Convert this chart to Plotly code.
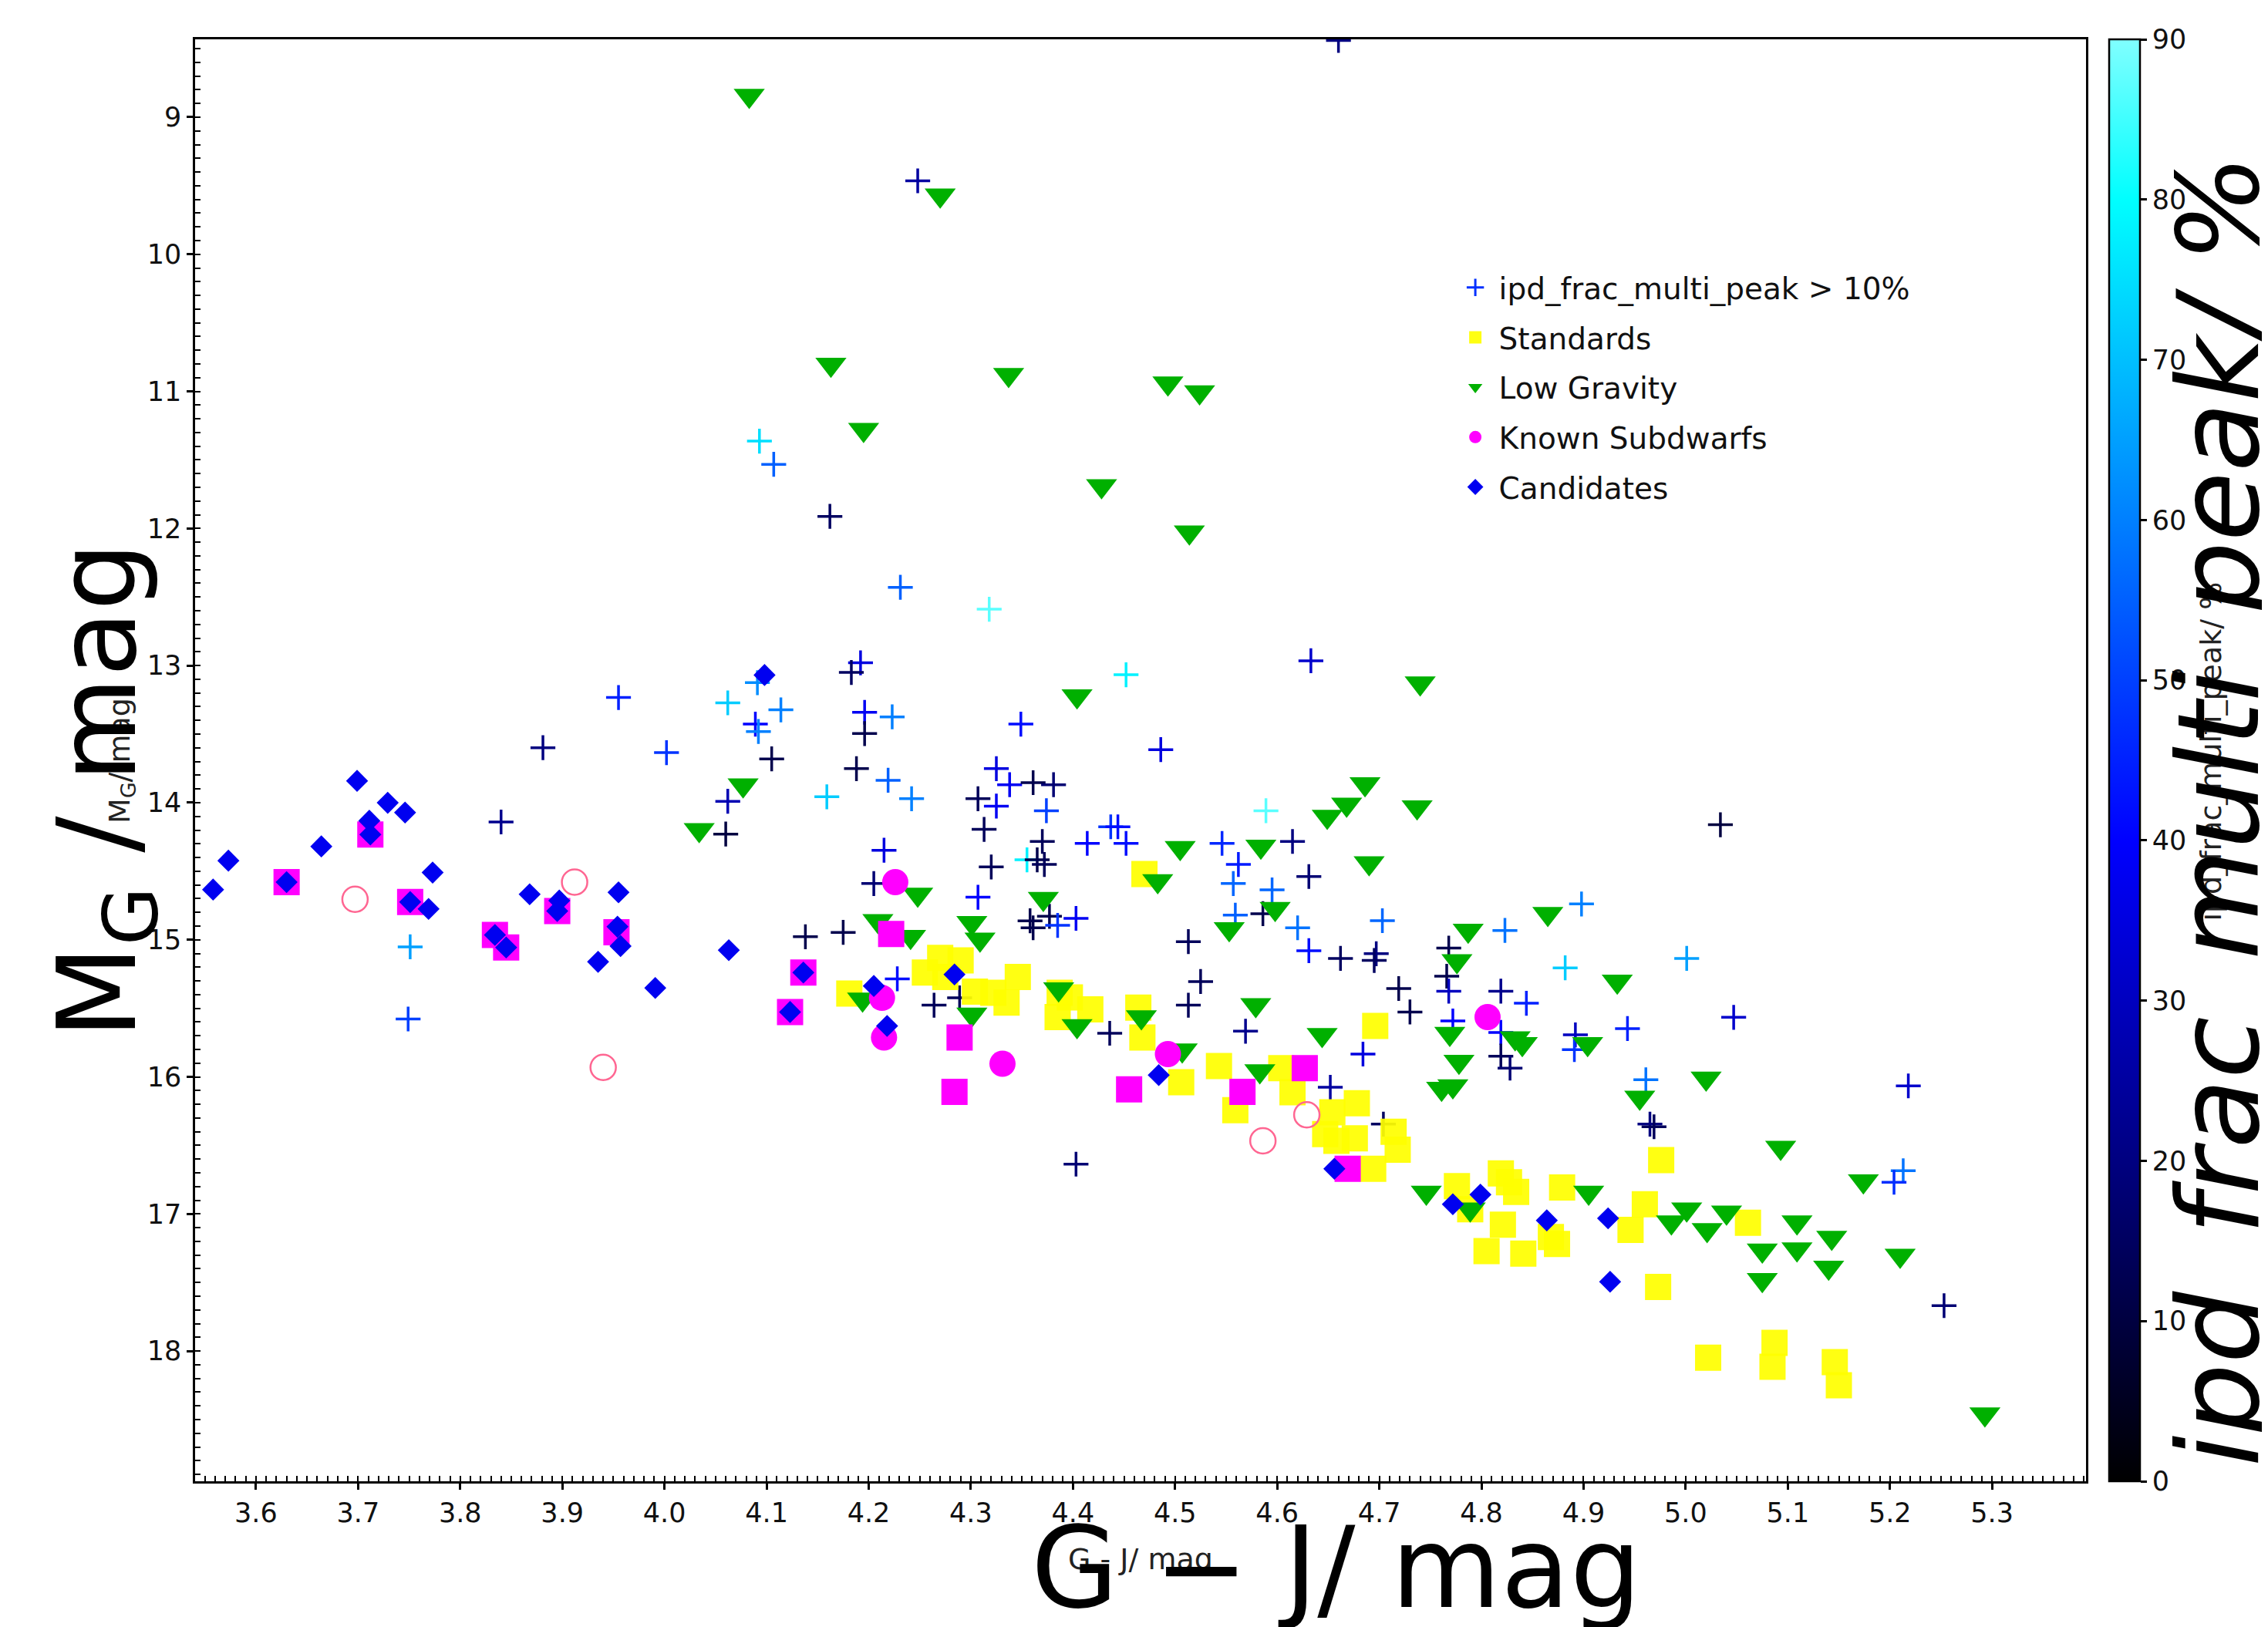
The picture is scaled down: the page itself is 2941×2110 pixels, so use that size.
import plotly.graph_objects as go

# ---------------- data ----------------
# Candidates (blue diamonds)
cand_x = [3.558, 3.573, 3.630, 3.664, 3.699, 3.711, 3.712, 3.729, 3.746, 3.751, 3.769, 3.773,
          3.868, 3.834, 3.845, 3.897, 3.895, 3.955, 3.954, 3.957, 3.935, 3.991, 4.063, 4.098,
          4.123, 4.136, 4.205, 4.218, 4.284, 4.484, 4.656, 4.772, 4.799, 4.864, 4.924, 4.926]
cand_y = [14.634, 14.423, 14.580, 14.319, 13.841, 14.132, 14.232, 14.001, 14.072, 14.725, 14.775, 14.510,
          14.668, 14.965, 15.056, 14.714, 14.791, 14.654, 14.905, 15.046, 15.161, 15.352, 15.076, 13.069,
          15.527, 15.239, 15.337, 15.629, 15.253, 15.987, 16.671, 16.929, 16.859, 17.047, 17.032, 17.495]

# Standards (yellow squares)
std_x = [4.470, 4.181, 4.270, 4.290, 4.255, 4.275, 4.304, 4.346, 4.322, 4.335, 4.387, 4.397, 4.417,
         4.385, 4.464, 4.468, 4.506, 4.696, 4.976, 4.543, 4.604, 4.559, 4.615, 4.678, 4.654, 4.647,
         4.658, 4.676, 4.714, 4.718, 4.694, 4.776, 4.819, 4.827, 4.834, 4.789, 4.821, 4.805, 4.841,
         4.868, 4.874, 4.879, 4.960, 4.946, 5.061, 4.973, 5.022, 5.087, 5.085, 5.146, 5.150]
std_y = [14.521, 15.392, 15.132, 15.151, 15.239, 15.272, 15.378, 15.272, 15.387, 15.458, 15.387, 15.421, 15.508,
         15.564, 15.495, 15.713, 16.039, 15.629, 16.607, 15.921, 15.936, 16.243, 16.113, 16.193, 16.259, 16.417,
         16.467, 16.449, 16.401, 16.532, 16.671, 16.797, 16.704, 16.769, 16.840, 16.966, 17.078, 17.271, 17.290,
         17.168, 17.219, 16.807, 16.929, 17.116, 17.065, 17.532, 18.048, 17.941, 18.115, 18.081, 18.250]

# Low gravity (green down-triangles)
lg_x = [4.083, 4.270, 4.163, 4.337, 4.493, 4.524, 4.195, 4.428, 4.514,
        4.404, 4.077, 4.034, 4.505, 4.483,
        4.740, 4.686, 4.668, 4.649, 4.737, 4.584, 4.690,
        4.248, 4.371, 4.209, 4.241, 4.301, 4.309, 4.194, 4.301, 4.386, 4.404, 4.467, 4.507,
        4.598, 4.553, 4.787, 4.865, 4.776, 4.933, 4.579, 4.644, 4.769, 4.833, 4.840, 4.904,
        4.778, 4.761, 4.772, 4.955, 5.020, 4.583,
        4.746, 4.789, 4.905, 5.093, 5.174, 4.986, 5.001, 5.021, 5.040, 5.075, 5.109, 5.109,
        5.143, 5.140, 5.075, 5.210, 5.293]
lg_y = [8.842, 9.570, 10.804, 10.878, 10.941, 11.005, 11.279, 11.690, 12.028,
        13.223, 13.873, 14.199, 14.329, 14.571,
        13.128, 13.864, 14.013, 14.102, 14.032, 14.320, 14.441,
        14.670, 14.700, 14.862, 14.978, 14.876, 14.997, 15.434, 15.545, 15.360, 15.629, 15.564, 15.806,
        14.774, 14.922, 14.932, 14.810, 15.155, 15.304, 15.475, 15.694, 15.685, 15.717, 15.760, 15.760,
        15.889, 16.085, 16.067, 16.150, 16.011, 15.958,
        16.844, 16.966, 16.844, 16.516, 16.760, 17.060, 16.966, 17.116, 16.988, 17.266, 17.060, 17.257,
        17.172, 17.391, 17.481, 17.303, 18.460]

# Known subdwarfs: filled squares, filled circles, open circles (magenta)
sdsq_x = [3.630, 3.712, 3.751, 3.834, 3.845, 3.895, 3.953, 4.123, 4.136, 4.222, 4.289, 4.284,
          4.455, 4.566, 4.627, 4.669]
sdsq_y = [14.580, 14.232, 14.725, 14.965, 15.056, 14.791, 14.945, 15.527, 15.239, 14.958, 15.713, 16.109,
          16.091, 16.109, 15.936, 16.671]
sdc_x = [4.226, 4.213, 4.215, 4.331, 4.493, 4.806]
sdc_y = [14.580, 15.424, 15.713, 15.904, 15.834, 15.564]
sdo_x = [3.697, 3.912, 3.940, 4.629, 4.586]
sdo_y = [14.705, 14.580, 15.931, 16.277, 16.467]

# ipd_frac_multi_peak > 10% (crosses coloured by ipd_frac_multi_peak / %)
ipd_x = [4.660, 4.248, 4.093, 4.107, 4.162, 4.231,
         4.318, 4.192, 4.183, 4.091, 4.062, 4.114, 4.089, 4.092, 4.196, 4.223, 4.196, 4.452, 4.349,
         4.486, 4.105, 4.188, 4.219, 4.159, 4.242, 4.062, 4.060, 4.325, 4.338, 4.361, 4.381, 4.307,
         4.325, 4.374, 4.313, 4.370, 4.437, 4.444, 4.414, 4.452, 4.215, 4.355, 4.365, 4.372, 4.320, 4.205,
         3.751, 3.749, 3.881, 3.840, 3.955, 4.002,
         4.633, 4.589, 4.615, 4.546, 4.562, 4.631, 4.557, 4.595, 5.034,
         4.307, 4.138, 4.175, 4.358, 4.377, 4.361, 4.385, 4.403, 4.513, 4.525, 4.513, 4.228, 4.264,
         4.289, 4.436, 4.403,
         4.559, 4.586, 4.620, 4.703, 4.631, 4.662, 4.697, 4.695, 4.823, 4.898, 4.768, 4.766, 4.719,
         4.768, 4.819, 4.844, 4.730, 4.882, 5.001, 4.569, 4.684, 4.772, 4.819, 4.819, 4.828, 4.892,
         4.891, 4.943, 4.961, 4.965, 4.969, 4.652, 4.704,
         5.213, 5.204, 5.253, 5.047, 5.218]
ipd_y = [8.440, 9.464, 11.363, 11.532, 11.912, 12.429,
         12.589, 12.980, 13.050, 13.125, 13.272, 13.323, 13.427, 13.481, 13.341, 13.374, 13.496, 13.067, 13.427,
         13.613, 13.681, 13.752, 13.837, 13.957, 13.971, 13.990, 14.229, 13.752, 13.869, 13.854, 13.869, 13.971,
         14.025, 14.059, 14.195, 14.283, 14.176, 14.176, 14.297, 14.297, 14.347, 14.417, 14.417, 14.451, 14.469, 14.590,
         15.052, 15.578, 13.599, 14.141, 13.233, 13.635,
         12.965, 14.059, 14.283, 14.297, 14.451, 14.539, 14.590, 14.636, 14.161,
         14.690, 14.978, 14.946, 14.862, 14.829, 14.913, 14.895, 14.844, 15.014, 15.305, 15.477, 15.285, 15.477,
         15.424, 15.682, 16.637,
         14.820, 14.810, 14.913, 14.861, 15.080, 15.136, 15.102, 15.151, 14.932, 14.739, 15.061, 15.266, 15.356,
         15.375, 15.375, 15.463, 15.527, 15.205, 15.136, 15.667, 15.834, 15.592, 15.676, 15.849, 15.936, 15.694,
         15.801, 15.648, 16.021, 16.345, 16.364, 16.076, 16.345,
         16.685, 16.769, 17.669, 15.566, 16.066]
ipd_val = [20, 25, 75, 55, 15, 55,
           87, 35, 15, 62, 72, 60, 40, 60, 38, 60, 12, 78, 42,
           35, 12, 12, 55, 72, 60, 28, 10, 35, 38, 12, 18, 14,
           38, 50, 14, 14, 48, 42, 40, 42, 35, 78, 12, 14, 14, 18,
           65, 50, 20, 22, 45, 48,
           32, 87, 20, 46, 44, 18, 56, 56, 10,
           40, 12, 12, 12, 12, 12, 48, 38, 14, 14, 14, 42, 14,
           14, 14, 18,
           55, 12, 58, 56, 42, 15, 20, 15, 58, 60, 12, 12, 12,
           30, 22, 45, 12, 72, 65, 22, 35, 40, 40, 14, 18, 30,
           48, 45, 58, 20, 14, 25, 15,
           58, 47, 18, 32, 32]

x_ticks = [3.6, 3.7, 3.8, 3.9, 4.0, 4.1, 4.2, 4.3, 4.4, 4.5, 4.6, 4.7, 4.8, 4.9, 5.0, 5.1, 5.2, 5.3]
x_ticklabels = ["3.6", "3.7", "3.8", "3.9", "4.0", "4.1", "4.2", "4.3", "4.4", "4.5", "4.6", "4.7",
                "4.8", "4.9", "5.0", "5.1", "5.2", "5.3"]
y_ticks = [9, 10, 11, 12, 13, 14, 15, 16, 17, 18]
cb_ticks = [0, 10, 20, 30, 40, 50, 60, 70, 80, 90]

# ---------------- styling ----------------
FONT = "DejaVu Sans"
cscale = [[0.0, "#000000"], [0.222, "#000080"], [0.444, "#0000ff"], [0.667, "#0080ff"],
          [0.889, "#00ffff"], [1.0, "#80ffff"]]

fig = go.Figure()

# crosses (coloured, with colour bar)
fig.add_trace(go.Scatter(
    x=ipd_x, y=ipd_y, mode="markers", showlegend=False, legendgroup="ipd",
    marker=dict(symbol="cross-thin", size=23, color=ipd_val, colorscale=cscale, cmin=0, cmax=90,
                showscale=True,
                line=dict(width=3.5, color=ipd_val, colorscale=cscale, cmin=0, cmax=90),
                colorbar=dict(x=1.0122, xanchor="left", y=0.5, yanchor="middle", len=1.0,
                              lenmode="fraction", thickness=40, thicknessmode="pixels",
                              xpad=0, ypad=0, outlinewidth=2.5, outlinecolor="black",
                              tickmode="array", tickvals=cb_ticks, ticks="outside", ticklen=8,
                              tickwidth=2.5, tickcolor="black",
                              tickfont=dict(family=FONT, size=35, color="#111111"))),
))
# legend entry for crosses
fig.add_trace(go.Scatter(
    x=[None], y=[None], mode="markers", name="ipd_frac_multi_peak > 10%", legendgroup="ipd",
    marker=dict(symbol="cross-thin", size=16, line=dict(width=3, color="#0030ff")),
))
fig.add_trace(go.Scatter(
    x=std_x, y=std_y, mode="markers", name="Standards", legendgroup="std",
    marker=dict(symbol="square", size=34, color="#ffff00", opacity=0.93, line=dict(width=0)),
))
fig.add_trace(go.Scatter(
    x=lg_x, y=lg_y, mode="markers", name="Low Gravity", legendgroup="lg",
    marker=dict(symbol="triangle-down", size=35, color="#00b000", line=dict(width=0)),
))
fig.add_trace(go.Scatter(
    x=sdsq_x, y=sdsq_y, mode="markers", showlegend=False, legendgroup="sd",
    marker=dict(symbol="square", size=34, color="#ff00ff", line=dict(width=0)),
))
fig.add_trace(go.Scatter(
    x=sdc_x, y=sdc_y, mode="markers", name="Known Subdwarfs", legendgroup="sd",
    marker=dict(symbol="circle", size=34, color="#ff00ff", line=dict(width=0)),
))
fig.add_trace(go.Scatter(
    x=sdo_x, y=sdo_y, mode="markers", showlegend=False, legendgroup="sd",
    marker=dict(symbol="circle-open", size=33, line=dict(width=2.5, color="#ff00ff")),
))
fig.add_trace(go.Scatter(
    x=cand_x, y=cand_y, mode="markers", name="Candidates", legendgroup="cand",
    marker=dict(symbol="diamond", size=22, color="#0000f0", line=dict(width=0)),
))

axis_common = dict(showgrid=False, zeroline=False, showline=True, linewidth=2.5, linecolor="black",
                   mirror=True, ticks="outside", ticklen=8, tickwidth=2.5, tickcolor="black",
                   tickfont=dict(family=FONT, size=35, color="#111111"))

fig.update_xaxes(range=[3.5404, 5.392], tickmode="array", tickvals=x_ticks, ticktext=x_ticklabels,
                 minor=dict(ticks="inside", dtick=0.01, tick0=3.5, ticklen=7, tickwidth=2,
                            tickcolor="black", showgrid=False),
                 **axis_common)
fig.update_yaxes(range=[18.95, 8.432], tickmode="array", tickvals=y_ticks,
                 minor=dict(ticks="inside", dtick=0.1, tick0=8, ticklen=7, tickwidth=2,
                            tickcolor="black", showgrid=False),
                 **axis_common)

ann = []
# small labels first, big labels on top
ann.append(dict(text="G - J/ mag", x=0.5, y=-0.054, xref="paper", yref="paper",
                showarrow=False, xanchor="center", yanchor="middle",
                font=dict(family=FONT, size=38, color="#222222")))
ann.append(dict(text="M<sub>G</sub>/ mag", x=-0.0392, y=0.5, xref="paper", yref="paper",
                showarrow=False, xanchor="center", yanchor="middle", textangle=-90,
                font=dict(family=FONT, size=38, color="#222222")))
ann.append(dict(text="ipd_frac_multi_peak/ %", x=1.066, y=0.506, xref="paper", yref="paper",
                showarrow=False, xanchor="center", yanchor="middle", textangle=-90,
                font=dict(family=FONT, size=38, color="#222222")))
ann.append(dict(text="G − J/ mag", x=0.6035, y=-0.060, xref="paper", yref="paper",
                showarrow=False, xanchor="center", yanchor="middle",
                font=dict(family=FONT, size=146, color="black")))
ann.append(dict(text="M<sub>G</sub> / mag", x=-0.0478, y=0.479, xref="paper", yref="paper",
                showarrow=False, xanchor="center", yanchor="middle", textangle=-90,
                font=dict(family=FONT, size=140, color="black")))
ann.append(dict(text="<i>ipd_frac_multi_peak/ %</i>", x=1.0705, y=0.465, xref="paper", yref="paper",
                showarrow=False, xanchor="center", yanchor="middle", textangle=-90,
                font=dict(family=FONT, size=147, color="black")))

# the page body has an 8 px margin, so margins are shifted to keep the plot frame in place
fig.update_layout(
    width=2941, height=2110,
    margin=dict(l=245, r=244, t=43, b=197, pad=0),
    paper_bgcolor="white", plot_bgcolor="white",
    font=dict(family=FONT, size=35, color="black"),
    legend=dict(x=0.6646, y=0.845, xanchor="left", yanchor="top", traceorder="grouped",
                tracegroupgap=11, itemwidth=51, bgcolor="rgba(0,0,0,0)", borderwidth=0,
                font=dict(family=FONT, size=39, color="#111111"), itemsizing="trace"),
    annotations=ann,
)

fig.write_html("out.html")
